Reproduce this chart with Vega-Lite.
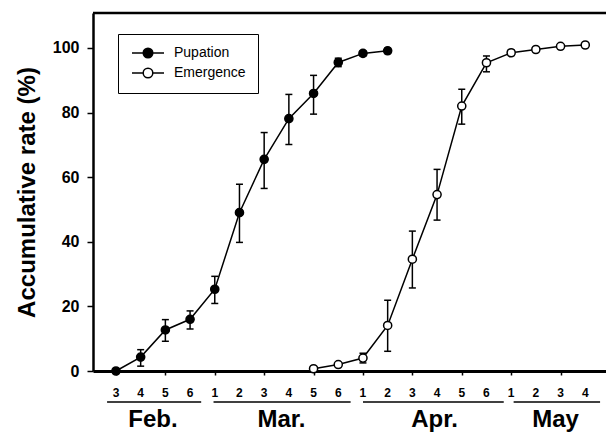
{
  "$schema": "https://vega.github.io/schema/vega-lite/v6.json",
  "width": 513,
  "height": 358,
  "autosize": {"type": "none"},
  "padding": {"left": 93, "top": 13, "right": 0, "bottom": 62},
  "background": "white",
  "config": {
    "view": {"stroke": null},
    "font": "Liberation Sans",
    "axisX": {
      "domainColor": "black", "domainWidth": 3, "tickColor": "black", "tickWidth": 1.5, "tickSize": 4,
      "labels": false, "grid": false, "title": null
    },
    "axisY": {
      "domainColor": "black", "domainWidth": 2.5, "tickColor": "black", "tickWidth": 1.5, "tickSize": 6,
      "labelColor": "black", "labelFont": "Liberation Sans", "labelFontSize": 16, "labelFontWeight": "bold",
      "labelPadding": 8, "grid": false, "titleColor": "black", "titleFont": "Liberation Sans",
      "titleFontSize": 24, "titleFontWeight": "bold", "titlePadding": 13
    }
  },
  "datasets": {
    "series": [
      {"series": "Pupation", "idx": 0, "mean": 0.0, "lo": 0.0, "hi": 0.0},
      {"series": "Pupation", "idx": 1, "mean": 4.3, "lo": 1.5, "hi": 6.6},
      {"series": "Pupation", "idx": 2, "mean": 12.7, "lo": 9.2, "hi": 15.9},
      {"series": "Pupation", "idx": 3, "mean": 16.0, "lo": 13.0, "hi": 18.6},
      {"series": "Pupation", "idx": 4, "mean": 25.3, "lo": 20.9, "hi": 29.3},
      {"series": "Pupation", "idx": 5, "mean": 49.0, "lo": 39.8, "hi": 57.8},
      {"series": "Pupation", "idx": 6, "mean": 65.5, "lo": 56.5, "hi": 73.8},
      {"series": "Pupation", "idx": 7, "mean": 78.1, "lo": 70.1, "hi": 85.6},
      {"series": "Pupation", "idx": 8, "mean": 85.9, "lo": 79.5, "hi": 91.5},
      {"series": "Pupation", "idx": 9, "mean": 95.5, "lo": 94.2, "hi": 96.8},
      {"series": "Pupation", "idx": 10, "mean": 98.3, "lo": 97.6, "hi": 99.0},
      {"series": "Pupation", "idx": 11, "mean": 99.1, "lo": 98.3, "hi": 99.9},
      {"series": "Emergence", "idx": 8, "mean": 0.7, "lo": 0.7, "hi": 0.7},
      {"series": "Emergence", "idx": 9, "mean": 2.0, "lo": 2.0, "hi": 2.0},
      {"series": "Emergence", "idx": 10, "mean": 4.0, "lo": 2.5, "hi": 5.5},
      {"series": "Emergence", "idx": 11, "mean": 14.1, "lo": 6.1, "hi": 21.9},
      {"series": "Emergence", "idx": 12, "mean": 34.6, "lo": 25.7, "hi": 43.3},
      {"series": "Emergence", "idx": 13, "mean": 54.6, "lo": 46.7, "hi": 62.4},
      {"series": "Emergence", "idx": 14, "mean": 82.0, "lo": 76.4, "hi": 87.2},
      {"series": "Emergence", "idx": 15, "mean": 95.4, "lo": 92.6, "hi": 97.5},
      {"series": "Emergence", "idx": 16, "mean": 98.5, "lo": 97.7, "hi": 99.3},
      {"series": "Emergence", "idx": 17, "mean": 99.5, "lo": 99.5, "hi": 99.5},
      {"series": "Emergence", "idx": 18, "mean": 100.5, "lo": 100.5, "hi": 100.5},
      {"series": "Emergence", "idx": 19, "mean": 100.9, "lo": 100.9, "hi": 100.9}
    ],
    "days": [
      {"idx": 0, "day": "3"}, {"idx": 1, "day": "4"}, {"idx": 2, "day": "5"}, {"idx": 3, "day": "6"},
      {"idx": 4, "day": "1"}, {"idx": 5, "day": "2"}, {"idx": 6, "day": "3"}, {"idx": 7, "day": "4"},
      {"idx": 8, "day": "5"}, {"idx": 9, "day": "6"}, {"idx": 10, "day": "1"}, {"idx": 11, "day": "2"},
      {"idx": 12, "day": "3"}, {"idx": 13, "day": "4"}, {"idx": 14, "day": "5"}, {"idx": 15, "day": "6"},
      {"idx": 16, "day": "1"}, {"idx": 17, "day": "2"}, {"idx": 18, "day": "3"}, {"idx": 19, "day": "4"}
    ],
    "months": [
      {"month": "Feb.", "start": -0.36, "end": 3.45, "mid": 1.5},
      {"month": "Mar.", "start": 3.95, "end": 9.5, "mid": 6.7},
      {"month": "Apr.", "start": 10.0, "end": 15.7, "mid": 12.9},
      {"month": "May", "start": 16.1, "end": 19.6, "mid": 17.8}
    ],
    "frame": [{"edge": "top"}]
  },
  "layer": [
    {
      "data": {"name": "frame"},
      "mark": {"type": "rule", "color": "black", "strokeWidth": 2.5},
      "encoding": {
        "y": {"datum": 110.8, "type": "quantitative", "scale": {"domain": [0, 110.8], "nice": false, "zero": false},
              "axis": {"values": [0, 20, 40, 60, 80, 100], "title": "Accumulative rate (%)"}}
      }
    },
    {
      "data": {"name": "series"},
      "mark": {"type": "rule", "color": "black", "strokeWidth": 1.5},
      "encoding": {
        "x": {"field": "idx", "type": "quantitative", "scale": {"domain": [-0.93, 19.84], "nice": false, "zero": false},
              "axis": {"values": [0,1,2,3,4,5,6,7,8,9,10,11,12,13,14,15,16,17,18,19]}},
        "y": {"field": "lo", "type": "quantitative", "scale": {"domain": [0, 110.8], "nice": false, "zero": false},
              "axis": {"values": [0, 20, 40, 60, 80, 100], "title": "Accumulative rate (%)"}},
        "y2": {"field": "hi"}
      }
    },
    {
      "data": {"name": "series"},
      "mark": {"type": "tick", "orient": "horizontal", "color": "black", "size": 7, "thickness": 1.5, "opacity": 1},
      "encoding": {
        "x": {"field": "idx", "type": "quantitative"},
        "y": {"field": "lo", "type": "quantitative"}
      }
    },
    {
      "data": {"name": "series"},
      "mark": {"type": "tick", "orient": "horizontal", "color": "black", "size": 7, "thickness": 1.5, "opacity": 1},
      "encoding": {
        "x": {"field": "idx", "type": "quantitative"},
        "y": {"field": "hi", "type": "quantitative"}
      }
    },
    {
      "data": {"name": "series"},
      "mark": {"type": "line", "color": "black", "strokeWidth": 1.5},
      "encoding": {
        "x": {"field": "idx", "type": "quantitative"},
        "y": {"field": "mean", "type": "quantitative"},
        "detail": {"field": "series"}
      }
    },
    {
      "data": {"name": "series"},
      "mark": {"type": "point", "shape": "circle", "filled": false, "stroke": "black", "strokeWidth": 1.5, "size": 66, "opacity": 1, "fillOpacity": 1},
      "encoding": {
        "x": {"field": "idx", "type": "quantitative"},
        "y": {"field": "mean", "type": "quantitative"},
        "fill": {
          "field": "series", "type": "nominal",
          "scale": {"domain": ["Pupation", "Emergence"], "range": ["black", "white"]},
          "legend": {
            "orient": "none", "legendX": 25, "legendY": 21, "title": null,
            "symbolType": "M-0.96,0A0.96,0.96 0 1,1 0.96,0A0.96,0.96 0 1,1 -0.96,0Z M-3.2,0L-0.96,0 M0.96,0L3.2,0",
            "symbolSize": 100, "symbolOffset": 11, "symbolStrokeColor": "black", "symbolStrokeWidth": 1.5,
            "labelFont": "Liberation Sans", "labelFontSize": 14, "labelColor": "black", "labelOffset": 19,
            "strokeColor": "black", "fillColor": "white", "padding": 12, "rowPadding": 4
          }
        }
      }
    },
    {
      "data": {"name": "days"},
      "mark": {"type": "text", "color": "black", "font": "Liberation Sans", "fontSize": 12, "fontWeight": "bold", "baseline": "middle", "align": "center"},
      "encoding": {
        "x": {"field": "idx", "type": "quantitative"},
        "y": {"datum": -6.7, "type": "quantitative"},
        "text": {"field": "day"}
      }
    },
    {
      "data": {"name": "months"},
      "mark": {"type": "rule", "color": "black", "strokeWidth": 1.5},
      "encoding": {
        "x": {"field": "start", "type": "quantitative"},
        "x2": {"field": "end"},
        "y": {"datum": -9.6, "type": "quantitative"}
      }
    },
    {
      "data": {"name": "months"},
      "mark": {"type": "text", "color": "black", "font": "Liberation Sans", "fontSize": 24, "fontWeight": "bold", "baseline": "middle", "align": "center"},
      "encoding": {
        "x": {"field": "mid", "type": "quantitative"},
        "y": {"datum": -15.3, "type": "quantitative"},
        "text": {"field": "month"}
      }
    }
  ]
}
